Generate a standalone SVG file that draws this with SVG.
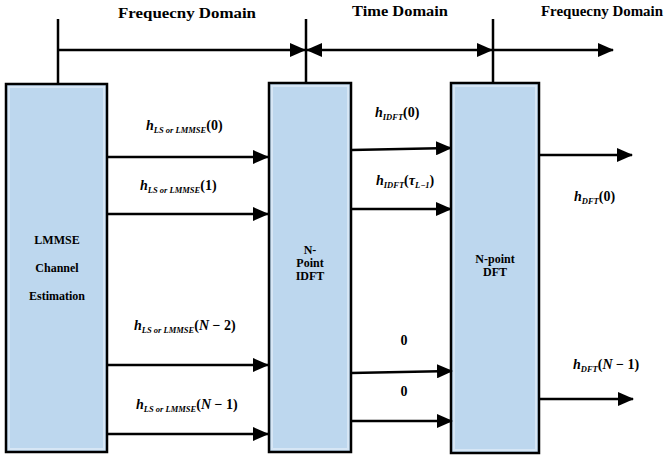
<svg xmlns="http://www.w3.org/2000/svg" width="666" height="459" viewBox="0 0 666 459">
<style>
.box{fill:#BDD7EE;stroke:#000;stroke-width:2.5}
.inner{fill:none;stroke:#D6E6F5;stroke-width:2}
.ln{stroke:#000;stroke-width:2.5;fill:none}
.arr{stroke:#000;stroke-width:2.5;fill:none;marker-end:url(#ah)}
.dom{font-family:"Liberation Serif","Times New Roman",serif;font-weight:bold;font-size:15px;fill:#000}
.bt{font-family:"Liberation Serif","Times New Roman",serif;font-weight:bold;font-size:12px;fill:#000;text-anchor:middle}
.m{font-family:"Liberation Serif","Times New Roman",serif;font-weight:bold;font-size:14px;fill:#000}
.mi{font-style:italic}
.sub{font-style:italic;font-size:8.5px}
</style>
<defs>
<marker id="ah" markerUnits="userSpaceOnUse" markerWidth="16" markerHeight="14" refX="15" refY="7" orient="auto-start-reverse">
<path d="M0,0 L16,7 L0,14 z" fill="#000"/>
</marker>
</defs>
<g id="domains">
<text class="dom" x="118" y="18" textLength="138" lengthAdjust="spacingAndGlyphs">Frequecny Domain</text>
<text class="dom" x="352" y="16" textLength="96" lengthAdjust="spacingAndGlyphs">Time Domain</text>
<text class="dom" x="541" y="16" textLength="122" lengthAdjust="spacingAndGlyphs">Frequecny Domain</text>
</g>
<g id="node-lmmse">
<rect class="box" x="6" y="84" width="101" height="368"/>
<rect class="inner" x="9" y="87" width="95" height="362"/>
<text class="bt" x="57" y="244">LMMSE</text>
<text class="bt" x="57" y="272">Channel</text>
<text class="bt" x="57" y="300">Estimation</text>
</g>
<g id="node-idft">
<rect class="box" x="269" y="83" width="82" height="369"/>
<rect class="inner" x="272" y="86" width="76" height="363"/>
<text class="bt" x="310" y="254">N-</text>
<text class="bt" x="310" y="267">Point</text>
<text class="bt" x="310" y="280">IDFT</text>
</g>
<g id="node-dft">
<rect class="box" x="451" y="83" width="88" height="370"/>
<rect class="inner" x="454" y="86" width="82" height="364"/>
<text class="bt" x="495" y="263">N-point</text>
<text class="bt" x="495" y="276">DFT</text>
</g>
<g id="connectors">
<line class="ln" x1="58" y1="19" x2="58" y2="84"/>
<line class="ln" x1="306" y1="19" x2="306" y2="83"/>
<line class="ln" x1="493" y1="19" x2="493" y2="83"/>
<line class="arr" x1="58" y1="50" x2="305" y2="50"/>
<line class="arr" x1="307" y1="50" x2="492" y2="50" style="marker-start:url(#ah)"/>
<line class="arr" x1="493" y1="50" x2="613" y2="50"/>
<line class="arr" x1="107" y1="157" x2="268" y2="157"/>
<line class="arr" x1="107" y1="214" x2="268" y2="214"/>
<line class="arr" x1="107" y1="365" x2="268" y2="365"/>
<line class="arr" x1="107" y1="434" x2="268" y2="434"/>
<line class="arr" x1="351" y1="150" x2="451" y2="148"/>
<line class="arr" x1="351" y1="209" x2="451" y2="209"/>
<line class="arr" x1="351" y1="373" x2="452" y2="371"/>
<line class="arr" x1="351" y1="421" x2="452" y2="421"/>
<line class="arr" x1="539" y1="155" x2="632" y2="155"/>
<line class="arr" x1="539" y1="399" x2="633" y2="399"/>
</g>
<g id="labels">
<text class="m" x="146" y="130"><tspan class="mi">h</tspan><tspan class="sub" dy="3">LS or LMMSE</tspan><tspan dy="-3">(0)</tspan></text>
<text class="m" x="140" y="190"><tspan class="mi">h</tspan><tspan class="sub" dy="3">LS or LMMSE</tspan><tspan dy="-3">(1)</tspan></text>
<text class="m" x="134" y="330"><tspan class="mi">h</tspan><tspan class="sub" dy="3">LS or LMMSE</tspan><tspan dy="-3">(</tspan><tspan class="mi">N</tspan><tspan> − 2)</tspan></text>
<text class="m" x="136" y="409"><tspan class="mi">h</tspan><tspan class="sub" dy="3">LS or LMMSE</tspan><tspan dy="-3">(</tspan><tspan class="mi">N</tspan><tspan> − 1)</tspan></text>
<text class="m" x="375" y="117"><tspan class="mi">h</tspan><tspan class="sub" dy="3">IDFT</tspan><tspan dy="-3">(0)</tspan></text>
<text class="m" x="376" y="185"><tspan class="mi">h</tspan><tspan class="sub" dy="3">IDFT</tspan><tspan dy="-3">(</tspan><tspan class="mi">τ</tspan><tspan class="sub" dy="3">L−1</tspan><tspan dy="-3">)</tspan></text>
<text class="m" x="404" y="345" text-anchor="middle" font-size="12">0</text>
<text class="m" x="404" y="396" text-anchor="middle" font-size="12">0</text>
<text class="m" x="574" y="201"><tspan class="mi">h</tspan><tspan class="sub" dy="3">DFT</tspan><tspan dy="-3">(0)</tspan></text>
<text class="m" x="573" y="369"><tspan class="mi">h</tspan><tspan class="sub" dy="3">DFT</tspan><tspan dy="-3">(</tspan><tspan class="mi">N</tspan><tspan> − 1)</tspan></text>
</g>
</svg>
